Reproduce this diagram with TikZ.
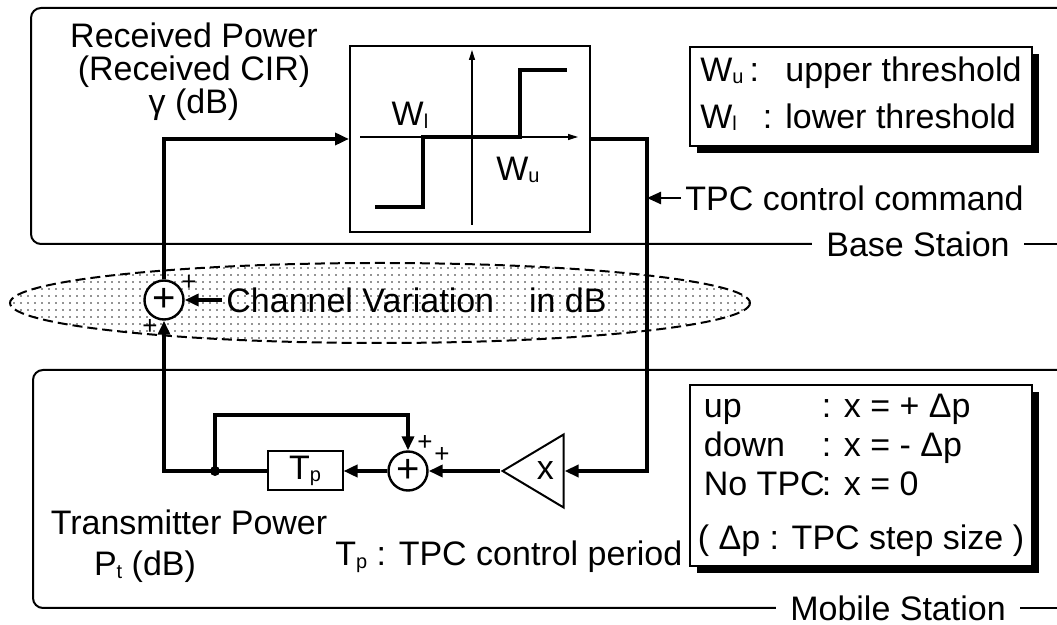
\documentclass[tikz,border=0pt]{standalone}
\usepackage{fontspec}
\setmainfont{Liberation Sans}
\usepackage{tikz}
\usetikzlibrary{positioning,arrows.meta,shapes.geometric,shadows,patterns.meta}
\newcommand{\lowidx}[1]{\raisebox{-0.15ex}{\fontsize{10}{10}\selectfont #1}}
\tikzset{
  frame/.style={draw=black, line width=1pt, rounded corners=5pt},
  sig/.style={draw=black, line width=2pt, -{Triangle[length=7pt,width=6pt]}},
  wire/.style={draw=black, line width=2pt},
  thinarr/.style={draw=black, line width=1.2pt, -{Triangle[length=7pt,width=6pt]}},
  axis/.style={draw=black, line width=0.6pt, -{Triangle[length=5pt,width=3pt]}},
  sumnd/.style={circle, draw=black, line width=1.2pt, fill=white, minimum size=19.5pt, inner sep=0pt, font=\fontsize{20}{20}\selectfont},
  blk/.style={rectangle, draw=black, line width=1pt, fill=white, inner sep=0pt, font=\fontsize{17}{19.5}\selectfont},
  lbl/.style={font=\fontsize{17}{19.5}\selectfont, inner sep=2pt},
  pl/.style={font=\fontsize{13}{13}\selectfont, inner sep=0pt},
  legend/.style={rectangle, draw=black, line width=1pt, fill=white, inner sep=0pt, minimum width=171pt, font=\fontsize{17}{19.5}\selectfont, drop shadow={shadow xshift=3.5pt, shadow yshift=-3.5pt, opacity=1, fill=black}},
  chan/.style={draw=black, line width=1pt, dash pattern=on 5pt off 2.5pt, pattern={Dots[distance=3.5pt, radius=0.4pt]}, pattern color=black!85}
}
\begin{document}
\begin{tikzpicture}[x=0.5pt, y=-0.5pt]
\useasboundingbox (0,0) rectangle (1057,625);
% station frames
\node[lbl, inner xsep=7pt] (bs) at (918,244) {Base Staion};
\node[lbl, inner xsep=7pt] (ms) at (898,608) {Mobile Station};
\coordinate (bsend) at (1057,244);
\coordinate (msend) at (1057,608);
\draw[frame] (1057,8) -| (31,244) -- (bs.west);
\draw[frame] (bs.east) -- (bsend);
\draw[frame] (1057,370) -| (33,608) -- (ms.west);
\draw[frame] (ms.east) -- (msend);
% channel
\draw[chan] (380,303) ellipse [x radius=370, y radius=40];
% threshold decision
\node[blk, minimum width=120pt, minimum height=93pt] (ctl) at (470,139) {};
\draw[axis] (360,137) -- (578,137);
\draw[axis] (472,225) -- (472,50);
\draw[wire] (375,207) -| (423,137) -| (520,70) -- (567,70);
\node[lbl] (wl) at (410,115) {W\lowidx{l}};
\node[lbl] (wu) at (518,170) {W\lowidx{u}};
\node[lbl, align=center, font=\fontsize{17}{16.5}\selectfont] (rcv) at (194,72) {Received Power\\(Received CIR)\\γ (dB)};
% legends
\node[legend, minimum height=49.5pt] (legU) at (861,97) {\begin{tabular}{@{}l@{}}
\makebox[42.5pt][l]{W\lowidx{u}\hspace{3pt}:}upper threshold\\[4pt]
\makebox[42.5pt][l]{W\lowidx{l}\hspace{13pt}:}lower threshold
\end{tabular}};
\node[legend, minimum height=90.5pt] (legD) at (861,476) {\begin{tabular}{@{}l@{}}
\makebox[62pt][l]{\hspace{3pt}up}: x = + Δp\\
\makebox[62pt][l]{\hspace{3pt}down}: x = - Δp\\
\makebox[62pt][l]{\hspace{3pt}No TPC}: x = 0\\[7.5pt]
( Δp : TPC step size )
\end{tabular}};
% loop
\node[sumnd] (sum1) at (164,300) {+};
\node[sumnd] (sum2) at (408,471) {+};
\node[blk, minimum width=37.5pt, minimum height=19.5pt] (tp) at (305,471) {T\lowidx{p}};
\node[isosceles triangle, isosceles triangle stretches, shape border rotate=180, draw=black, line width=1pt, fill=white, minimum width=36.5pt, minimum height=30.5pt, inner sep=0pt, anchor=apex, font=\fontsize{17}{17}\selectfont] (amp) at (500,471) {x};
\coordinate (rt) at (647,139);
\coordinate (jn) at (215,471);
\node[lbl, anchor=west] (cmd) at (681,198) {TPC control command};
\node[lbl, anchor=west] (chv) at (222,300) {Channel Variation\hspace{17.5pt}in dB};
\draw[sig] (sum1.north) |- (ctl.west);
\draw[sig] (ctl.east) -- (rt) |- (amp.lower side);
\draw[sig] (amp.apex) -- (sum2.east);
\draw[sig] (sum2.west) -- (tp.east);
\draw[sig] (tp.west) -| (sum1.south);
\draw[sig] (jn) -- ++(0,-56) -| (sum2.north);
\fill (jn) circle (2.5pt);
\draw[thinarr] (cmd.west) -- (cmd.west -| rt);
\draw[sig] (chv.west) -- (sum1.east);
\node[pl] (p1) at (189,283) {+};
\node[pl] (p2) at (150,327) {+};
\node[pl] (p3) at (425,443) {+};
\node[pl] (p4) at (442,455) {+};
% labels
\node[lbl] (txp) at (189,522) {Transmitter Power};
\node[lbl] (ptx) at (145,567) {P\lowidx{t} (dB)};
\node[lbl, anchor=west] (tpd) at (331,557) {T\lowidx{p} : TPC control period};
\end{tikzpicture}
\end{document}
